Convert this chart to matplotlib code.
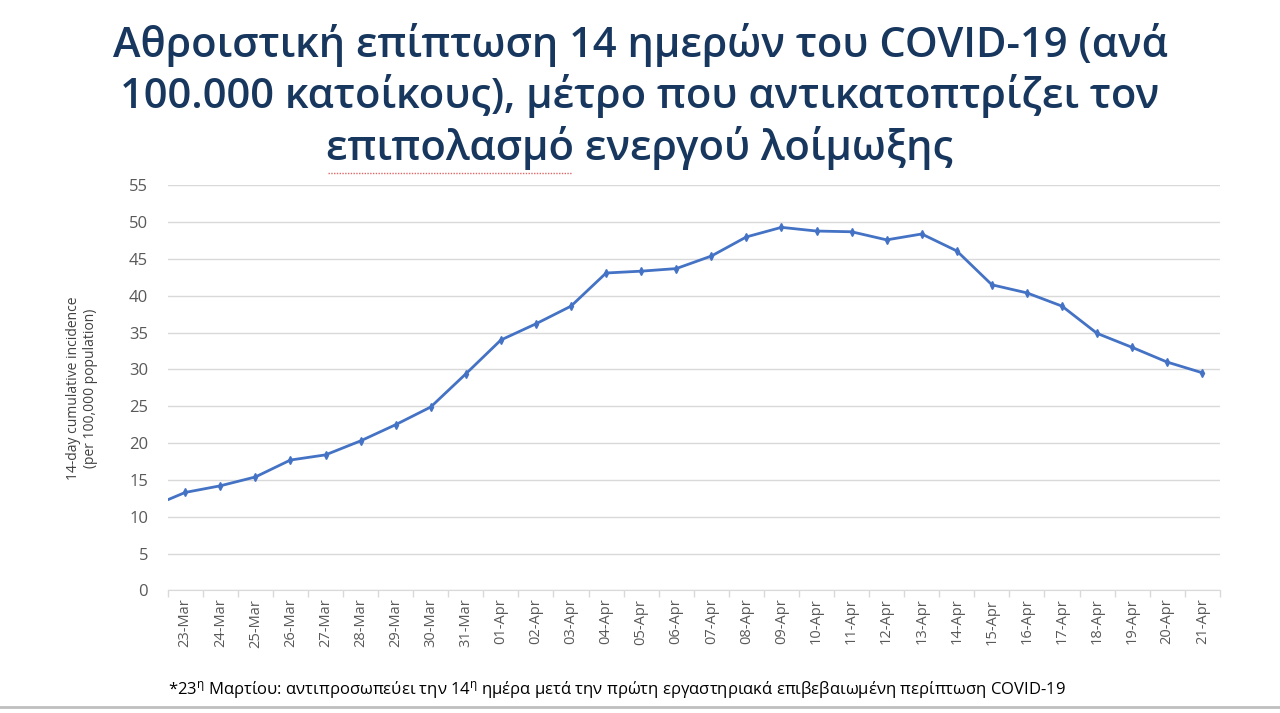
import matplotlib.pyplot as plt
import numpy as np

# data (22-Mar only shows as the clipped start of the line)
dates = ['22-Mar', '23-Mar', '24-Mar', '25-Mar', '26-Mar', '27-Mar', '28-Mar', '29-Mar',
         '30-Mar', '31-Mar', '01-Apr', '02-Apr', '03-Apr', '04-Apr', '05-Apr', '06-Apr',
         '07-Apr', '08-Apr', '09-Apr', '10-Apr', '11-Apr', '12-Apr', '13-Apr', '14-Apr',
         '15-Apr', '16-Apr', '17-Apr', '18-Apr', '19-Apr', '20-Apr', '21-Apr']
incidence = [11.3, 13.3, 14.2, 15.4, 17.7, 18.4, 20.3, 22.5,
             24.9, 29.4, 34.0, 36.2, 38.6, 43.1, 43.35, 43.7,
             45.4, 48.0, 49.3, 48.8, 48.7, 47.6, 48.4, 46.1,
             41.5, 40.4, 38.6, 34.9, 33.0, 31.0, 29.55]
yticks = list(range(0, 60, 5))

title = ('Αθροιστική επίπτωση 14 ημερών του COVID-19 (ανά\n'
         '100.000 κατοίκους), μέτρο που αντικατοπτρίζει τον\n'
         'επιπολασμό ενεργού λοίμωξης')
ylabel = '14-day cumulative incidence\n(per 100,000 population)'
note = (r'*23$^{\mathregular{η}}$ Μαρτίου: αντιπροσωπεύει την 14$^{\mathregular{η}}$ ημέρα '
        'μετά την πρώτη εργαστηριακά επιβεβαιωμένη περίπτωση COVID-19')

plt.rcParams['font.family'] = ['Open Sans', 'DejaVu Sans']
plt.rcParams['mathtext.default'] = 'regular'

fig = plt.figure(figsize=(12.8, 7.13), dpi=100)
ax = fig.add_axes([0.131, 0.172, 0.822, 0.568])

x = np.arange(len(dates)) - 1  # 23-Mar sits at 0
ax.plot(x, incidence, color='#4472c4', lw=2, marker='d', ms=4, clip_on=True)

ax.set_xlim(-0.5, len(dates) - 1.5)
ax.set_ylim(0, 55)
ax.set_yticks(yticks)
ax.set_xticks(x[1:])
ax.set_xticklabels(dates[1:], rotation=90, fontsize=10.5, color='#595959')
ax.set_xticks(np.arange(-0.5, len(dates) - 1, 1), minor=True)
ax.tick_params(axis='x', which='major', length=0, pad=6)
ax.tick_params(axis='x', which='minor', length=5, color='#d9d9d9', width=1)
ax.tick_params(axis='y', length=0, labelsize=12, labelcolor='#595959', pad=14)
ax.grid(axis='y', color='#d9d9d9', lw=1)
ax.set_axisbelow(True)
for s in ['top', 'right', 'left']:
    ax.spines[s].set_visible(False)
ax.spines['bottom'].set_color('#d9d9d9')

ax.set_ylabel(ylabel, fontsize=10, color='#404040', labelpad=22)

fig.text(0.5, 0.968, title, ha='center', va='top', fontsize=30, color='#17375e',
         weight='semibold', linespacing=1.22)
# spell-check squiggle under the first word of the last title line
fig.add_artist(plt.Line2D([0.256, 0.447], [0.757, 0.757], color='#e06666', lw=1,
                          ls=(0, (1, 1))))
fig.text(0.131, 0.032, note, ha='left', va='center', fontsize=12, color='black')
fig.add_artist(plt.Line2D([0, 1], [0.008, 0.008], color='#bfbfbf', lw=2))

fig.savefig('out.png', dpi=100)
